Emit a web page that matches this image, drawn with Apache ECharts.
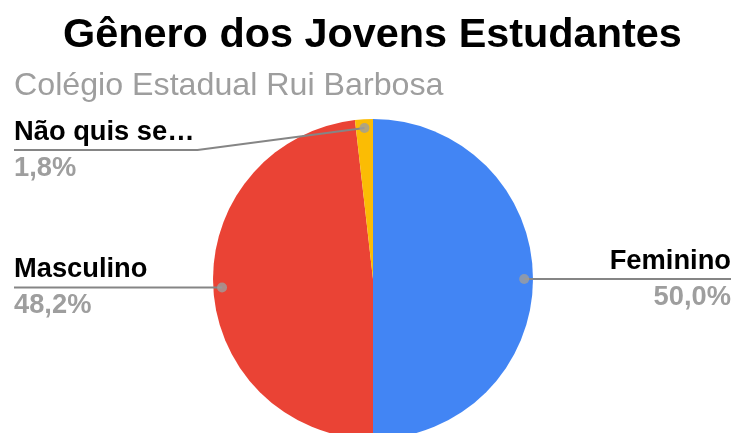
<!DOCTYPE html>
<html>
<head>
<meta charset="utf-8">
<script src="https://cdn.jsdelivr.net/npm/echarts@6/dist/echarts.min.js"></script>
<style>
  html, body { margin: 0; padding: 0; background: #fff; }
  #chart { width: 735px; height: 433px; }
</style>
</head>
<body>
<div id="chart"></div>
<script>
// Gender breakdown of the students (percent of total)
const categories = ['Feminino', 'Masculino', 'Não quis se…'];
const shares = [50.0, 48.2, 1.8];
const colors = ['#4285F4', '#EA4335', '#FBBC04'];

const FONT = '"Liberation Sans", Arial, sans-serif';
const CENTER = [373, 279];
const RADIUS = 160;
const DOT_RATIO = 0.945;   // label-line anchors sit just inside the rim
const LABEL_LEFT = 14;
const LABEL_RIGHT = 731;
const LABEL_MIN_Y = 150;   // keep labels clear of the subtitle

const total = shares.reduce((a, b) => a + b, 0);

// mid-angle of each slice in percent units, used for the anchor dots
const mids = [];
let acc = 0;
shares.forEach(v => { mids.push(acc + v / 2); acc += v; });

const chart = echarts.init(document.getElementById('chart'), null, { renderer: 'canvas' });

const fmtPct = v => (v / total * 100).toFixed(1).replace('.', ',') + '%';

const pieBase = {
  type: 'pie',
  center: CENTER,
  radius: RADIUS,
  startAngle: 90,
  clockwise: true,
  left: 0, top: 0, right: 0, bottom: 0,
  silent: true
};

chart.setOption({
  animation: false,
  title: [
    {
      text: 'Gênero dos Jovens Estudantes',
      left: 63, top: 15, padding: 0,
      textStyle: { fontFamily: FONT, fontSize: 41.4, fontWeight: 'bold', color: '#000' }
    },
    {
      text: 'Colégio Estadual Rui Barbosa',
      left: 14, top: 70, padding: 0,
      textStyle: { fontFamily: FONT, fontSize: 32.2, fontWeight: 'normal', color: '#9e9e9e' }
    }
  ],
  polar: { center: CENTER, radius: RADIUS },
  angleAxis: { type: 'value', min: 0, max: total, startAngle: 90, clockwise: true, show: false },
  radiusAxis: { type: 'value', min: 0, max: 1, show: false },
  series: [
    // filled slices
    Object.assign({}, pieBase, {
      z: 2,
      data: categories.map((name, i) => ({ name, value: shares[i], itemStyle: { color: colors[i] } })),
      label: { show: false },
      labelLine: { show: false }
    }),
    // labels and leader lines, drawn above the slices
    Object.assign({}, pieBase, {
      z: 3,
      data: categories.map((name, i) => ({ name, value: shares[i], itemStyle: { color: 'rgba(0,0,0,0)' } })),
      label: {
        show: true,
        position: 'outer',
        alignTo: 'edge',
        edgeDistance: 4,
        formatter: p => '{n|' + p.name + '}\n{p|' + fmtPct(p.value) + '}',
        rich: {
          n: { fontFamily: FONT, fontSize: 27.3, fontWeight: 'bold', color: '#000', lineHeight: 36 },
          p: { fontFamily: FONT, fontSize: 27.3, fontWeight: 'bold', color: '#9e9e9e', lineHeight: 36 }
        }
      },
      labelLine: {
        show: true,
        length: 10,
        length2: 10,
        lineStyle: { color: '#858585', width: 2 }
      },
      labelLayout: function (params) {
        const pts = params.labelLinePoints;
        if (!pts) return {};
        const ex = pts[0][0], ey = pts[0][1];
        const ax = CENTER[0] + (ex - CENTER[0]) * DOT_RATIO;
        const ay = CENTER[1] + (ey - CENTER[1]) * DOT_RATIO;
        const isLeft = ax < CENTER[0];
        const w = params.labelRect.width;
        const y = Math.max(ay, LABEL_MIN_Y);
        let x0, x1;
        if (isLeft) { x0 = LABEL_LEFT; x1 = LABEL_LEFT + w; }
        else { x1 = LABEL_RIGHT; x0 = LABEL_RIGHT - w; }
        return {
          x: isLeft ? x0 : x1,
          y: y,
          align: isLeft ? 'left' : 'right',
          verticalAlign: 'middle',
          labelLinePoints: isLeft
            ? [[ax, ay], [x1 + 3, y], [x0, y]]
            : [[ax, ay], [x0 - 3, y], [x1, y]]
        };
      }
    }),
    // anchor dots at each slice's mid-angle
    {
      type: 'scatter',
      coordinateSystem: 'polar',
      symbol: 'circle',
      symbolSize: 10,
      z: 5,
      silent: true,
      itemStyle: { color: '#9e9e9e' },
      data: mids.map(m => [DOT_RATIO, m])
    }
  ]
});
</script>
</body>
</html>
